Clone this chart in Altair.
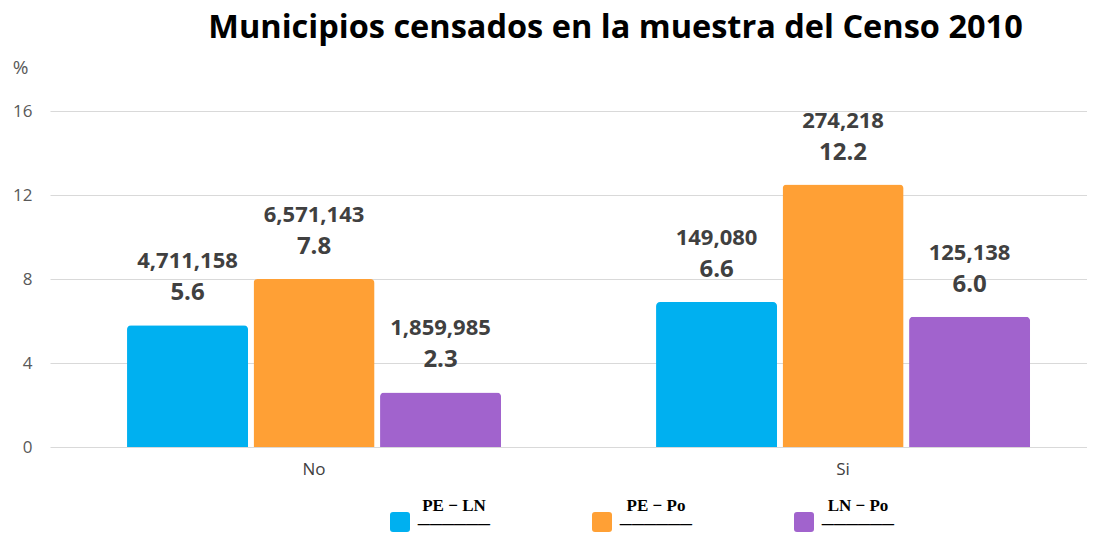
import altair as alt
import pandas as pd

# ---- data ----
groups = ["No", "Si"]
series = ["PE-LN/PE", "PE-Po/PE", "LN-Po/LN"]
numerators = ["PE − LN", "PE − Po", "LN − Po"]
denominators = ["PE", "PE", "LN"]
colors = ["#00B0F0", "#FFA035", "#A163CD"]

bar_no = [5.8, 8.0, 2.6]
bar_si = [6.9, 12.5, 6.2]
value_no = ["5.6", "7.8", "2.3"]
value_si = ["6.6", "12.2", "6.0"]
count_no = ["4,711,158", "6,571,143", "1,859,985"]
count_si = ["149,080", "274,218", "125,138"]

title_text = "Municipios censados en la muestra del Censo 2010"
y_ticks = [0, 4, 8, 12, 16]

rows = []
for g, bars, vals, cnts in [("No", bar_no, value_no, count_no), ("Si", bar_si, value_si, count_si)]:
    for s, b, v, c in zip(series, bars, vals, cnts):
        rows.append({"grupo": g, "serie": s, "pct": b, "valor": v, "conteo": c})
df = pd.DataFrame(rows)

bar_line = "──────"
label_expr = " : ".join(
    f"datum.label == '{s}' ? ['{n}', '{bar_line}', '{d}']" for s, n, d in zip(series, numerators, denominators)
) + " : datum.label"

# rounded square, drawn a little below the entry's centre line
rounded_square = ("M -0.7 0.6 L 0.7 0.6 Q 1 0.6 1 0.9 L 1 2.3 Q 1 2.6 0.7 2.6 "
                  "L -0.7 2.6 Q -1 2.6 -1 2.3 L -1 0.9 Q -1 0.6 -0.7 0.6 Z")

x_enc = alt.X(
    "grupo:N",
    sort=groups,
    scale=alt.Scale(paddingInner=0.293, paddingOuter=0.1266, align=0.575),
    axis=alt.Axis(title=None, labelAngle=0, domain=False, ticks=False,
                  labelFontSize=17, labelColor="#404040", labelPadding=14, labelFont="Open Sans"),
)
xo_enc = alt.XOffset("serie:N", sort=series, scale=alt.Scale(paddingInner=0.0435, paddingOuter=0))
y_enc = alt.Y(
    "pct:Q",
    scale=alt.Scale(domain=[0, 16], nice=False),
    axis=alt.Axis(values=y_ticks, grid=True, gridColor="#D9D9D9", gridWidth=1.2, domain=False, ticks=False,
                  labelFontSize=17, labelColor="#595959", labelPadding=18, labelFont="Open Sans",
                  title="%", titleAngle=0, titleX=-30, titleY=-44, titleAlign="center",
                  titleBaseline="middle", titleFontSize=19, titleFontWeight="normal",
                  titleColor="#595959", titleFont="Open Sans"),
)

base = alt.Chart(df)

bars = base.mark_bar(cornerRadiusTopLeft=4, cornerRadiusTopRight=4).encode(
    x=x_enc,
    xOffset=xo_enc,
    y=y_enc,
    color=alt.Color(
        "serie:N",
        sort=series,
        scale=alt.Scale(domain=series, range=colors),
        legend=alt.Legend(
            title=None, orient="none", legendX=340, legendY=385, direction="horizontal",
            symbolType=rounded_square, symbolSize=400, symbolStrokeWidth=0, symbolOpacity=1,
            labelFont="Liberation Serif", labelFontWeight="bold", labelFontSize=17,
            labelColor="#000000", labelOffset=44, labelAlign="center", columnPadding=101, padding=0,
            labelExpr=label_expr, labelBaseline="middle", labelLimit=200,
        ),
    ),
)

vals = base.mark_text(dy=-32, fontSize=24, fontWeight="bold", color="#404040", font="Open Sans",
                      baseline="middle").encode(
    x=alt.X("grupo:N", sort=groups), xOffset=alt.XOffset("serie:N", sort=series),
    y="pct:Q", text="valor:N")
cnts = base.mark_text(dy=-64, fontSize=22, fontWeight="bold", color="#404040", font="Open Sans",
                      baseline="middle").encode(
    x=alt.X("grupo:N", sort=groups), xOffset=alt.XOffset("serie:N", sort=series),
    y="pct:Q", text="conteo:N")

chart = alt.layer(bars, vals, cnts).properties(
    width=1037, height=336,
    autosize=alt.AutoSizeParams(type="none"),
    padding={"left": 42, "top": 103, "right": 0, "bottom": 87},
    title=alt.TitleParams(title_text, font="Open Sans", fontSize=32.5, fontWeight="bold",
                          color="#000000", anchor="middle", dx=47, dy=-10),
).configure_view(stroke=None)

chart.save("out.html", embed_options={"renderer": "svg", "actions": False})
